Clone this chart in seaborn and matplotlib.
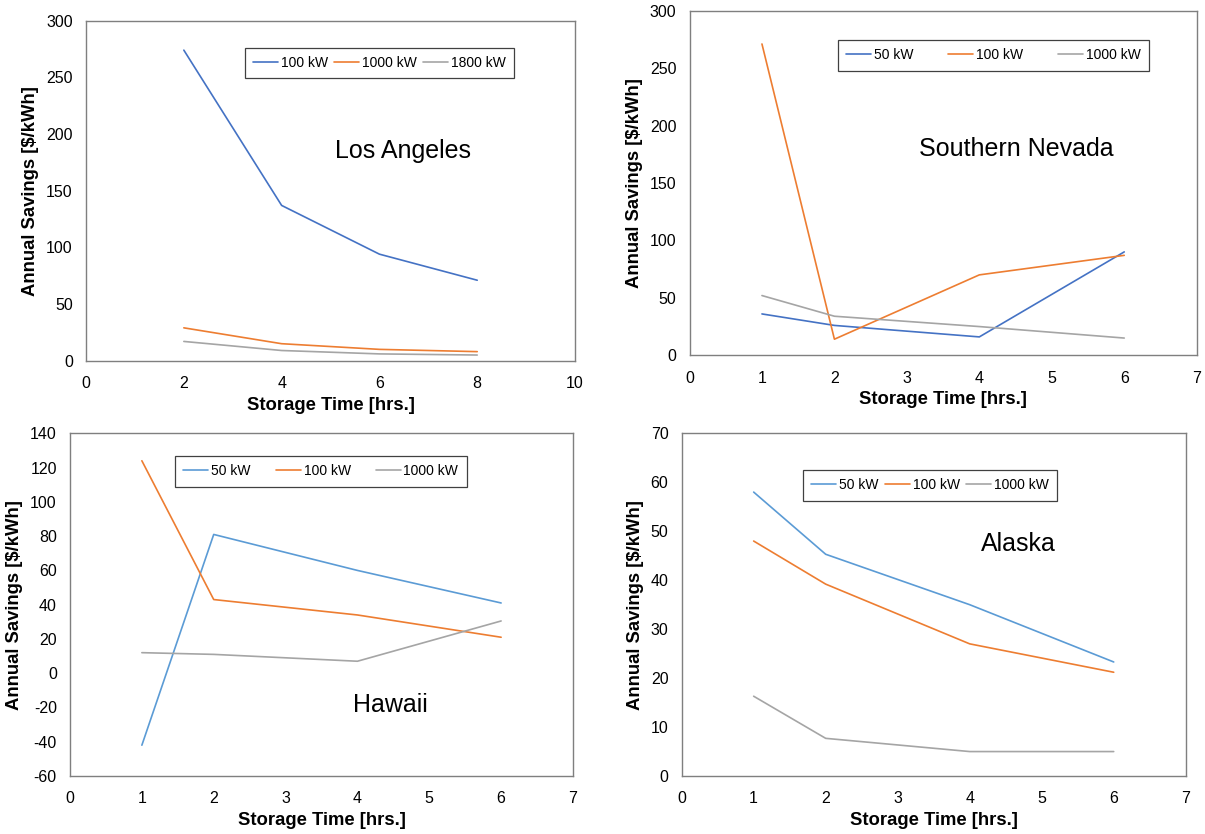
import matplotlib
matplotlib.use("Agg")
import matplotlib.pyplot as plt
import seaborn as sns
import pandas as pd

# Storage time points (hours) and annual savings ($/kWh) per region
la_hours = [2, 4, 6, 8]
la_100kw = [274, 137, 94, 71]
la_1000kw = [29, 15, 10, 8]
la_1800kw = [17, 9, 6, 5]

nv_hours = [1, 2, 4, 6]
nv_50kw = [36, 26, 16, 90]
nv_100kw = [271, 14, 70, 87]
nv_1000kw = [52, 34, 25, 15]

hi_hours = [1, 2, 4, 6]
hi_50kw = [-42, 81, 60, 41]
hi_100kw = [124, 43, 34, 21]
hi_1000kw = [12, 11, 7, 30.5]

ak_hours = [1, 2, 4, 6]
ak_50kw = [58, 45.3, 35, 23.3]
ak_100kw = [48, 39.2, 27, 21.2]
ak_1000kw = [16.3, 7.7, 5, 5]

BLUE_DARK = "#4472C4"
BLUE_LIGHT = "#5B9BD5"
ORANGE = "#ED7D31"
GRAY = "#A5A5A5"
SPINE = "#7F7F7F"

sns.set_style("white")
plt.rcParams["font.family"] = ["Liberation Sans", "DejaVu Sans"]
plt.rcParams["axes.unicode_minus"] = False
plt.rcParams["text.color"] = "black"
plt.rcParams["axes.labelcolor"] = "black"


def long_frame(hours, series):
    rows = []
    for name, vals in series.items():
        for h, v in zip(hours, vals):
            rows.append({"hours": h, "savings": v, "size": name})
    return pd.DataFrame(rows)


def draw_panel(rect, hours, series, colors, xlim, xticks, ylim, yticks,
               region, region_xy, legend_anchor, colspacing,
               ytick_dir="out"):
    ax = fig.add_axes(rect)
    df = long_frame(hours, series)
    sns.lineplot(data=df, x="hours", y="savings", hue="size",
                 palette=dict(zip(series.keys(), colors)),
                 hue_order=list(series.keys()), linewidth=1.2, ax=ax,
                 legend=True)
    ax.set_xlim(*xlim)
    ax.set_ylim(*ylim)
    ax.set_xticks(xticks)
    ax.set_yticks(yticks)
    ax.tick_params(axis="x", direction="in", length=5, width=0.8,
                   colors=SPINE, labelcolor="black", labelsize=11.5,
                   pad=11)
    if ytick_dir == "out":
        ax.tick_params(axis="y", direction="out", length=6, width=0.8,
                       colors=SPINE, labelcolor="black", labelsize=11.5,
                       pad=3.5)
    else:
        ax.tick_params(axis="y", direction="in", length=6, width=0.8,
                       colors=SPINE, labelcolor="black", labelsize=11.5,
                       pad=9.5)
    for sp in ax.spines.values():
        sp.set_visible(True)
        sp.set_color(SPINE)
        sp.set_linewidth(1.0)
    ax.set_xlabel("Storage Time [hrs.]", fontsize=13.3, fontweight="bold",
                  labelpad=4)
    ax.set_ylabel("Annual Savings [$/kWh]", fontsize=13.3,
                  fontweight="bold", labelpad=5)
    ax.text(region_xy[0], region_xy[1], region, transform=ax.transAxes,
            ha="center", va="center", fontsize=18, color="black")
    handles, labels = ax.get_legend_handles_labels()
    leg = ax.legend(handles, labels, ncol=3, loc="upper left",
                    bbox_to_anchor=legend_anchor, frameon=True,
                    fancybox=False, edgecolor="#404040", fontsize=10,
                    handlelength=1.8, handletextpad=0.2,
                    columnspacing=colspacing, borderpad=0.6,
                    borderaxespad=0, framealpha=1)
    leg.get_frame().set_linewidth(0.9)
    for t in leg.get_texts():
        t.set_color("black")
    return ax


fig = plt.figure(figsize=(12.05, 8.34), dpi=100)

draw_panel([0.0714, 0.5675, 0.4058, 0.4077], la_hours,
           {"100 kW": la_100kw, "1000 kW": la_1000kw, "1800 kW": la_1800kw},
           [BLUE_DARK, ORANGE, GRAY], (0, 10), range(0, 11, 2),
           (0, 300), range(0, 301, 50), "Los Angeles", (0.648, 0.618),
           (0.325, 0.921), 0.45)

draw_panel([0.5722, 0.5740, 0.4209, 0.4132], nv_hours,
           {"50 kW": nv_50kw, "100 kW": nv_100kw, "1000 kW": nv_1000kw},
           [BLUE_DARK, ORANGE, GRAY], (0, 7), range(0, 8),
           (0, 300), range(0, 301, 50), "Southern Nevada", (0.645, 0.598),
           (0.293, 0.915), 2.5, ytick_dir="in")

draw_panel([0.0581, 0.0695, 0.4174, 0.4109], hi_hours,
           {"50 kW": hi_50kw, "100 kW": hi_100kw, "1000 kW": hi_1000kw},
           [BLUE_LIGHT, ORANGE, GRAY], (0, 7), range(0, 8),
           (-60, 140), range(-60, 141, 20), "Hawaii", (0.636, 0.208),
           (0.209, 0.934), 1.8)

draw_panel([0.5657, 0.0695, 0.4183, 0.4109], ak_hours,
           {"50 kW": ak_50kw, "100 kW": ak_100kw, "1000 kW": ak_1000kw},
           [BLUE_LIGHT, ORANGE, GRAY], (0, 7), range(0, 8),
           (0, 70), range(0, 71, 10), "Alaska", (0.669, 0.676),
           (0.241, 0.893), 0.45)

fig.savefig("out.png", dpi=100)
